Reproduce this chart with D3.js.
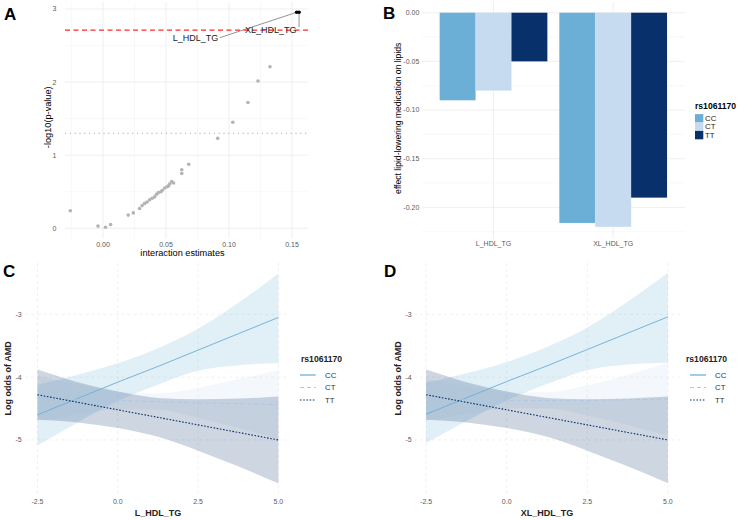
<!DOCTYPE html>
<html>
<head>
<meta charset="utf-8">
<script src="https://cdn.jsdelivr.net/npm/d3@7"></script>
<style>
  html, body { margin: 0; padding: 0; background: #fff; }
  svg { display: block; font-family: "Liberation Sans", Arial, sans-serif; }
</style>
</head>
<body>
<svg id="chart" width="741" height="520"></svg>
<script>
// ---------------- DATA ----------------
// Panel A: interaction estimates vs -log10(p)
const volcanoEst  = [-0.026, -0.004, 0.002, 0.006, 0.020, 0.024, 0.029, 0.031, 0.033, 0.035, 0.037, 0.039, 0.041, 0.0425, 0.044, 0.046, 0.047, 0.049, 0.051, 0.052, 0.053, 0.0545, 0.056, 0.0625, 0.0625, 0.068, 0.091, 0.103, 0.115, 0.123, 0.1325];
const volcanoLogP = [0.24, 0.03, 0.014, 0.05, 0.18, 0.21, 0.27, 0.31, 0.34, 0.36, 0.39, 0.41, 0.43, 0.465, 0.49, 0.50, 0.52, 0.55, 0.57, 0.58, 0.61, 0.64, 0.62, 0.80, 0.75, 0.875, 1.23, 1.45, 1.72, 2.015, 2.21];
const hitNames = ["L_HDL_TG", "XL_HDL_TG"];
const hitEst   = [0.1537, 0.1556];
const hitLogP  = [2.955, 2.955];
const hitLabelEst  = [0.0734, 0.1332];
const hitLabelLogP = [2.607, 2.713];
const bonferroniLogP = 2.71;
const nominalLogP = 1.301;
const aXTicks = [0, 0.05, 0.10, 0.15];
const aYTicks = [0, 1, 2, 3];

// Panel B: effect of lipid-lowering medication on lipids
const lipidCats = ["L_HDL_TG", "XL_HDL_TG"];
const genotypes = ["CC", "CT", "TT"];
const effectCC = [-0.090, -0.216];
const effectCT = [-0.080, -0.220];
const effectTT = [-0.050, -0.190];
const bYTicks = [0, -0.05, -0.10, -0.15, -0.20];

// Panels C and D: predicted log odds of AMD
const xGrid = [-2.5, -1.25, 0, 1.25, 2.5, 3.75, 5];
// Panel C (L_HDL_TG)
const cFitCC = [-4.60, -4.34, -4.08, -3.83, -3.57, -3.31, -3.05];
const cLoCC  = [-5.09, -4.72, -4.38, -4.12, -3.90, -3.81, -3.78];
const cHiCC  = [-4.12, -3.96, -3.78, -3.54, -3.23, -2.82, -2.35];
const cFitCT = [-4.34, -4.36, -4.37, -4.39, -4.41, -4.42, -4.44];
const cLoCT  = [-4.70, -4.60, -4.51, -4.52, -4.65, -4.81, -4.99];
const cHiCT  = [-3.98, -4.12, -4.23, -4.26, -4.17, -4.03, -3.89];
const cFitTT = [-4.28, -4.40, -4.52, -4.64, -4.76, -4.88, -5.00];
const cLoTT  = [-4.68, -4.72, -4.81, -4.95, -5.17, -5.42, -5.69];
const cHiTT  = [-3.88, -4.08, -4.23, -4.33, -4.35, -4.34, -4.31];
// Panel D (XL_HDL_TG)
const dFitCC = [-4.59, -4.33, -4.07, -3.82, -3.56, -3.30, -3.04];
const dLoCC  = [-5.05, -4.70, -4.37, -4.11, -3.89, -3.80, -3.77];
const dHiCC  = [-4.09, -3.94, -3.76, -3.52, -3.21, -2.80, -2.34];
const dFitCT = [-4.36, -4.36, -4.37, -4.37, -4.37, -4.36, -4.35];
const dLoCT  = [-4.69, -4.58, -4.50, -4.50, -4.61, -4.76, -4.93];
const dHiCT  = [-4.03, -4.14, -4.24, -4.24, -4.13, -3.96, -3.77];
const dFitTT = [-4.28, -4.40, -4.52, -4.64, -4.76, -4.88, -5.00];
const dLoTT  = [-4.68, -4.72, -4.81, -4.95, -5.17, -5.42, -5.69];
const dHiTT  = [-3.88, -4.08, -4.23, -4.33, -4.35, -4.34, -4.31];
const cdXTicks = [-2.5, 0, 2.5, 5];
const cdYTicks = [-3, -4, -5];

// ---------------- STYLE ----------------
const genoColor = { CC: "#6baed6", CT: "#c6dbef", TT: "#08306b" };
const lineColor = { CC: "#6baed6", CT: "#a9c6e6", TT: "#08306b" };
const lineDash  = { CC: null, CT: "4,3", TT: "1.6,1.6" };
const tickColor = "#5a5a5a";
const gridMajor = "#ebebeb";
const gridMinor = "#f4f4f4";

const svg = d3.select("#chart");

function tagLabel(t, x, y) {
  svg.append("text").attr("x", x).attr("y", y).attr("font-size", 17)
    .attr("font-weight", "bold").attr("fill", "#000").text(t);
}

// ---------------- PANEL A ----------------
(function () {
  const L = 65, R = 308, T = 2, B = 238.5;
  const x = d3.scaleLinear().domain([-0.0302, 0.1627]).range([L, R]);
  const y = d3.scaleLinear().domain([-0.14, 3.096]).range([B, T]);
  const g = svg.append("g");
  [-0.025, 0.025, 0.075, 0.125].forEach(v => g.append("line")
    .attr("x1", x(v)).attr("x2", x(v)).attr("y1", T).attr("y2", B)
    .attr("stroke", gridMinor).attr("stroke-width", 0.6));
  [0.5, 1.5, 2.5].forEach(v => g.append("line")
    .attr("x1", L).attr("x2", R).attr("y1", y(v)).attr("y2", y(v))
    .attr("stroke", gridMinor).attr("stroke-width", 0.6));
  aXTicks.forEach(v => g.append("line")
    .attr("x1", x(v)).attr("x2", x(v)).attr("y1", T).attr("y2", B)
    .attr("stroke", gridMajor).attr("stroke-width", 0.8));
  aYTicks.forEach(v => g.append("line")
    .attr("x1", L).attr("x2", R).attr("y1", y(v)).attr("y2", y(v))
    .attr("stroke", gridMajor).attr("stroke-width", 0.8));
  g.append("line").attr("x1", L).attr("x2", R)
    .attr("y1", y(nominalLogP)).attr("y2", y(nominalLogP))
    .attr("stroke", "#aaaaaa").attr("stroke-width", 1.1).attr("stroke-dasharray", "1.2,3.6");
  g.append("line").attr("x1", L).attr("x2", R)
    .attr("y1", y(bonferroniLogP)).attr("y2", y(bonferroniLogP))
    .attr("stroke", "#ff2a2a").attr("stroke-width", 1.2).attr("stroke-dasharray", "5,3.5");
  g.selectAll("circle.pt").data(volcanoEst.map((e, i) => [e, volcanoLogP[i]]))
    .enter().append("circle").attr("class", "pt")
    .attr("cx", d => x(d[0])).attr("cy", d => y(d[1])).attr("r", 1.8)
    .attr("fill", "#b3b3b3");
  const fs = 9;
  hitNames.forEach((n, i) => {
    const tx = x(hitLabelEst[i]), ty = y(hitLabelLogP[i]);
    const w = n.length * 0.63 * fs;
    let sx, sy;
    if (i === 0) { sx = tx + w / 2 + 1.5; sy = ty; }
    else { sx = x(hitEst[i]); sy = ty - 3; }
    g.append("line").attr("x1", sx).attr("y1", sy)
      .attr("x2", x(hitEst[i])).attr("y2", y(hitLogP[i]))
      .attr("stroke", "#777").attr("stroke-width", 0.8);
  });
  hitNames.forEach((n, i) => {
    g.append("text").attr("x", x(hitLabelEst[i])).attr("y", y(hitLabelLogP[i]))
      .attr("dy", "0.35em").attr("text-anchor", "middle")
      .attr("font-size", fs).attr("fill", "#222").text(n);
  });
  g.selectAll("circle.hit").data(hitEst.map((e, i) => [e, hitLogP[i]]))
    .enter().append("circle").attr("class", "hit")
    .attr("cx", d => x(d[0])).attr("cy", d => y(d[1])).attr("r", 1.8)
    .attr("fill", "#000");
  aXTicks.forEach(v => g.append("text").attr("x", x(v)).attr("y", 246.5)
    .attr("text-anchor", "middle").attr("font-size", 7).attr("fill", tickColor)
    .text(v.toFixed(2)));
  aYTicks.forEach(v => g.append("text").attr("x", 56.5).attr("y", y(v))
    .attr("dy", "0.35em").attr("text-anchor", "end").attr("font-size", 7)
    .attr("fill", tickColor).text(v));
  g.append("text").attr("x", (L + R) / 2 - 4).attr("y", 255.5)
    .attr("text-anchor", "middle").attr("font-size", 9.2).attr("fill", "#000")
    .text("interaction estimates");
  g.append("text").attr("transform", `translate(47.5,${(T + B) / 2 - 3}) rotate(-90)`)
    .attr("dy", "0.35em").attr("text-anchor", "middle").attr("font-size", 9.2)
    .attr("fill", "#000").text("-log10(p-value)");
  tagLabel("A", 4, 20);
})();

// ---------------- PANEL B ----------------
(function () {
  const L = 421.7, R = 685, T = 2, B = 238.5;
  const x = d3.scalePoint().domain(lipidCats).range([L, R]).padding(0.6);
  const step = x.step();
  const xs = d3.scaleBand().domain(genotypes).range([-0.45 * step, 0.45 * step]);
  const y = d3.scaleLinear().domain([-0.232, 0.011]).range([B, T]);
  const g = svg.append("g");
  [-0.025, -0.075, -0.125, -0.175, -0.225].forEach(v => g.append("line")
    .attr("x1", L).attr("x2", R).attr("y1", y(v)).attr("y2", y(v))
    .attr("stroke", gridMinor).attr("stroke-width", 0.6));
  bYTicks.forEach(v => g.append("line")
    .attr("x1", L).attr("x2", R).attr("y1", y(v)).attr("y2", y(v))
    .attr("stroke", gridMajor).attr("stroke-width", 0.8));
  lipidCats.forEach(c => g.append("line")
    .attr("x1", x(c)).attr("x2", x(c)).attr("y1", T).attr("y2", B)
    .attr("stroke", gridMajor).attr("stroke-width", 0.8));
  const vals = { CC: effectCC, CT: effectCT, TT: effectTT };
  lipidCats.forEach((c, ci) => {
    genotypes.forEach(gt => {
      const v = vals[gt][ci];
      g.append("rect").attr("x", x(c) + xs(gt)).attr("width", xs.bandwidth())
        .attr("y", y(0)).attr("height", y(v) - y(0))
        .attr("fill", genoColor[gt]);
    });
  });
  bYTicks.forEach(v => g.append("text").attr("x", 419.3).attr("y", y(v))
    .attr("dy", "0.35em").attr("text-anchor", "end").attr("font-size", 7)
    .attr("fill", tickColor).text(v.toFixed(2)));
  lipidCats.forEach(c => g.append("text").attr("x", x(c)).attr("y", 246.3)
    .attr("text-anchor", "middle").attr("font-size", 7).attr("fill", tickColor).text(c));
  g.append("text").attr("transform", `translate(398.3,${(T + B) / 2 - 2}) rotate(-90)`)
    .attr("dy", "0.35em").attr("text-anchor", "middle").attr("font-size", 8.6)
    .attr("fill", "#000").text("effect lipid-lowering medication on lipids");
  g.append("text").attr("x", 695).attr("y", 109).attr("font-size", 8.6)
    .attr("font-weight", "bold").attr("fill", "#000").text("rs1061170");
  genotypes.forEach((gt, i) => {
    const cy = 118.3 + i * 8.4;
    g.append("rect").attr("x", 695).attr("y", cy - 4.2).attr("width", 8.3).attr("height", 8.4)
      .attr("fill", genoColor[gt]);
    g.append("text").attr("x", 705).attr("y", cy).attr("dy", "0.35em")
      .attr("font-size", 7.8).attr("fill", "#222").text(gt);
  });
  tagLabel("B", 383, 18.5);
})();

// ---------------- PANELS C & D ----------------
function effectPanel(opt) {
  const { L, R, T, B, xTitle, tag, tagX, legX, keyX1, keyX2, labX, yTitleX, yLabX, data } = opt;
  const x = d3.scaleLinear().domain([-2.875, 5.375]).range([L, R]);
  const y = d3.scaleLinear().domain([-5.86, -2.18]).range([B, T]);
  const g = svg.append("g");
  cdXTicks.forEach(v => g.append("line")
    .attr("x1", x(v)).attr("x2", x(v)).attr("y1", T).attr("y2", B)
    .attr("stroke", "#ececec").attr("stroke-width", 0.8).attr("stroke-dasharray", "3,3"));
  cdYTicks.forEach(v => g.append("line")
    .attr("x1", L).attr("x2", R).attr("y1", y(v)).attr("y2", y(v))
    .attr("stroke", "#ececec").attr("stroke-width", 0.8).attr("stroke-dasharray", "3,3"));
  const area = d3.area().x(d => x(d.x)).y0(d => y(d.lo)).y1(d => y(d.hi)).curve(d3.curveMonotoneX);
  const line = d3.line().x(d => x(d.x)).y(d => y(d.fit));
  const series = genotypes.map(gt => ({
    gt,
    pts: xGrid.map((xv, i) => ({ x: xv, fit: data[gt].fit[i], lo: data[gt].lo[i], hi: data[gt].hi[i] }))
  }));
  series.forEach(s => g.append("path").attr("d", area(s.pts))
    .attr("fill", genoColor[s.gt]).attr("fill-opacity", 0.2));
  series.forEach(s => {
    const p = g.append("path").attr("d", line(s.pts)).attr("fill", "none")
      .attr("stroke", lineColor[s.gt]).attr("stroke-width", s.gt === "TT" ? 1.1 : 0.9);
    if (lineDash[s.gt]) p.attr("stroke-dasharray", lineDash[s.gt]);
  });
  cdXTicks.forEach(v => g.append("text").attr("x", x(v)).attr("y", 504)
    .attr("text-anchor", "middle").attr("font-size", 7).attr("fill", tickColor)
    .text(v.toFixed(1)));
  cdYTicks.forEach(v => g.append("text").attr("x", yLabX).attr("y", y(v))
    .attr("dy", "0.35em").attr("text-anchor", "end").attr("font-size", 7)
    .attr("fill", tickColor).text(v));
  g.append("text").attr("x", (L + R) / 2).attr("y", 515.5).attr("text-anchor", "middle")
    .attr("font-size", 9).attr("font-weight", "bold").attr("fill", "#222").text(xTitle);
  g.append("text").attr("transform", `translate(${yTitleX},${(T + B) / 2}) rotate(-90)`)
    .attr("dy", "0.35em").attr("text-anchor", "middle").attr("font-size", 9)
    .attr("font-weight", "bold").attr("fill", "#222").text("Log odds of AMD");
  g.append("text").attr("x", legX).attr("y", 361.5).attr("font-size", 8.6)
    .attr("font-weight", "bold").attr("fill", "#222").text("rs1061170");
  genotypes.forEach((gt, i) => {
    const cy = 375 + i * 12.5;
    const k = g.append("line").attr("x1", keyX1).attr("x2", keyX2).attr("y1", cy).attr("y2", cy)
      .attr("stroke", lineColor[gt]).attr("stroke-width", gt === "CC" ? 1.8 : 1.1);
    if (gt === "CC") k.attr("stroke-opacity", 0.7);
    if (lineDash[gt]) k.attr("stroke-dasharray", lineDash[gt]);
    g.append("text").attr("x", labX).attr("y", cy).attr("dy", "0.35em")
      .attr("font-size", 7.8).attr("fill", "#333").text(gt);
  });
  tagLabel(tag, tagX, 276.5);
}

effectPanel({
  L: 25.4, R: 290.4, T: 262.8, B: 494, xTitle: "L_HDL_TG", tag: "C", tagX: 3,
  legX: 301, keyX1: 300, keyX2: 315.7, labX: 325, yTitleX: 7.5, yLabX: 21.7,
  data: {
    CC: { fit: cFitCC, lo: cLoCC, hi: cHiCC },
    CT: { fit: cFitCT, lo: cLoCT, hi: cHiCT },
    TT: { fit: cFitTT, lo: cLoTT, hi: cHiTT }
  }
});
effectPanel({
  L: 414, R: 680, T: 262.8, B: 494, xTitle: "XL_HDL_TG", tag: "D", tagX: 384,
  legX: 686, keyX1: 690, keyX2: 706, labX: 715, yTitleX: 398.3, yLabX: 411.7,
  data: {
    CC: { fit: dFitCC, lo: dLoCC, hi: dHiCC },
    CT: { fit: dFitCT, lo: dLoCT, hi: dHiCT },
    TT: { fit: dFitTT, lo: dLoTT, hi: dHiTT }
  }
});
</script>
</body>
</html>
